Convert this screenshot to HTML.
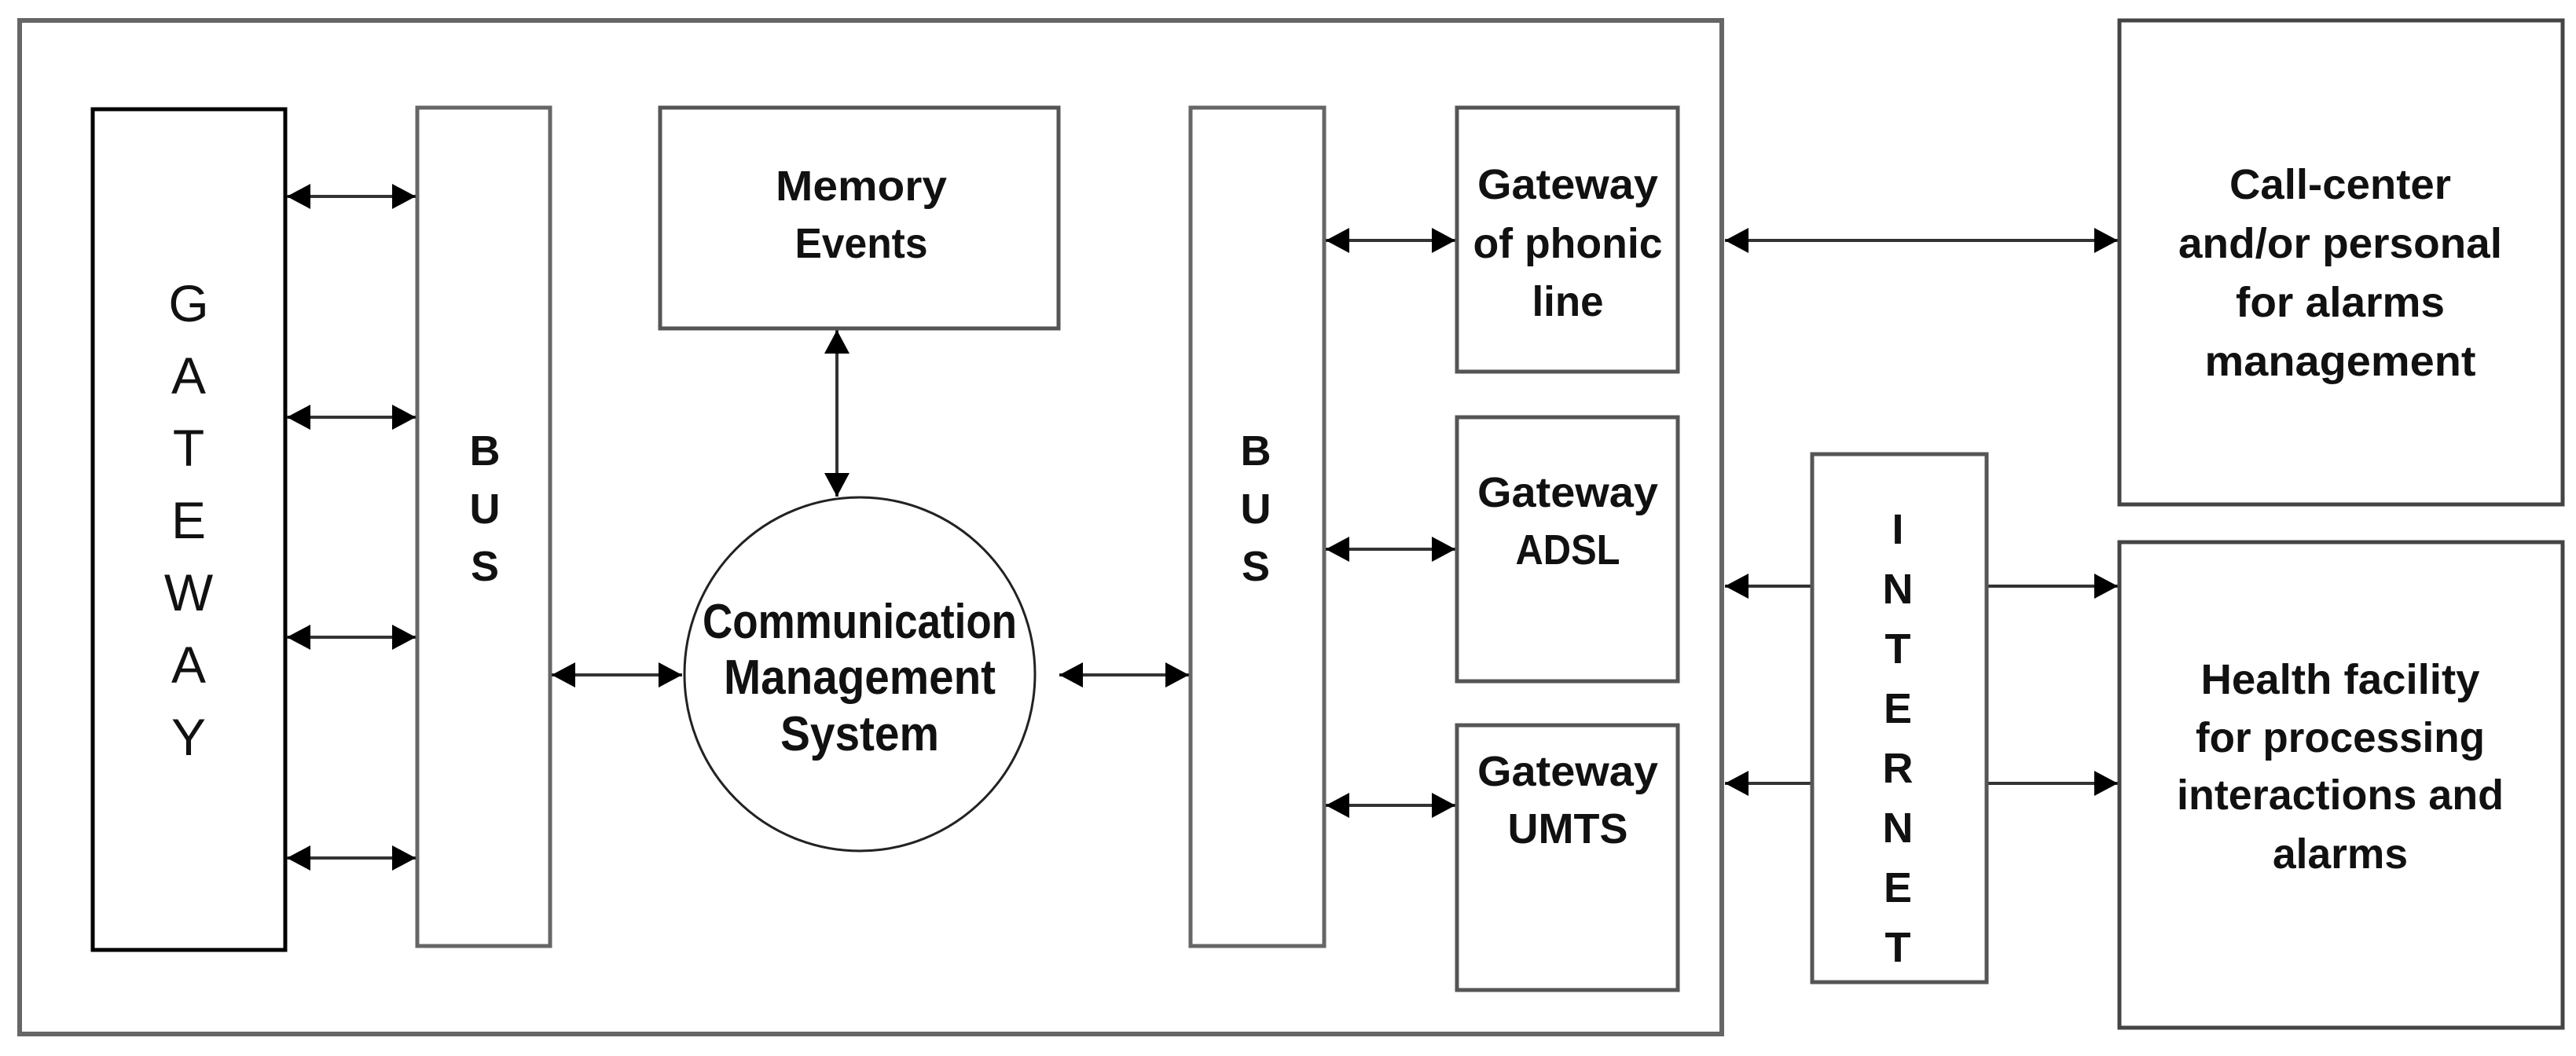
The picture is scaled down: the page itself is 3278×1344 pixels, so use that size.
<!DOCTYPE html>
<html><head><meta charset="utf-8"><style>
html,body{margin:0;padding:0;background:#fff;}
svg{display:block;}
text{font-family:"Liberation Sans",sans-serif;fill:#111;}
.b{font-weight:bold;font-size:54px;}
</style></head><body>
<svg width="3278" height="1344" viewBox="0 0 3278 1344" xmlns="http://www.w3.org/2000/svg">
<defs>
<marker id="ah" markerWidth="30" markerHeight="32" refX="30" refY="16" orient="auto-start-reverse" markerUnits="userSpaceOnUse">
<path d="M0,0 L30,16 L0,32 Z" fill="#000"/>
</marker>
</defs>
<rect width="3278" height="1344" fill="#fff"/>
<!-- outer -->
<rect x="25" y="26" width="2166" height="1290" fill="none" stroke="#666" stroke-width="6"/>
<!-- GATEWAY -->
<rect x="118" y="139" width="245" height="1070" fill="none" stroke="#000" stroke-width="5"/>
<g font-size="66" text-anchor="middle">
<text x="240" y="409">G</text><text x="240" y="501">A</text><text x="240" y="593">T</text>
<text x="240" y="685">E</text><text x="240" y="777">W</text><text x="240" y="869">A</text><text x="240" y="961">Y</text>
</g>
<!-- BUS1 -->
<rect x="531" y="137" width="169" height="1067" fill="none" stroke="#666" stroke-width="5"/>
<g class="b" text-anchor="middle">
<text x="617" y="592">B</text><text x="617" y="666">U</text><text x="617" y="739">S</text>
</g>
<!-- BUS2 -->
<rect x="1515" y="137" width="170" height="1067" fill="none" stroke="#666" stroke-width="5"/>
<g class="b" text-anchor="middle">
<text x="1598" y="592">B</text><text x="1598" y="666">U</text><text x="1598" y="739">S</text>
</g>
<!-- arrows gateway-bus -->
<g stroke="#333" stroke-width="4" marker-start="url(#ah)" marker-end="url(#ah)">
<line x1="365" y1="250" x2="529" y2="250"/>
<line x1="365" y1="531" x2="529" y2="531"/>
<line x1="365" y1="811" x2="529" y2="811"/>
<line x1="365" y1="1092" x2="529" y2="1092"/>
<line x1="702" y1="859" x2="868" y2="859"/>
<line x1="1348" y1="859" x2="1513" y2="859"/>
<line x1="1065" y1="420" x2="1065" y2="632"/>
<line x1="1687" y1="306" x2="1852" y2="306"/>
<line x1="1687" y1="699" x2="1852" y2="699"/>
<line x1="1687" y1="1025" x2="1852" y2="1025"/>
<line x1="2195" y1="306" x2="2695" y2="306"/>
</g>
<g stroke="#333" stroke-width="4" marker-end="url(#ah)">
<line x1="2305" y1="746" x2="2195" y2="746"/>
<line x1="2305" y1="997" x2="2195" y2="997"/>
<line x1="2528" y1="746" x2="2695" y2="746"/>
<line x1="2528" y1="997" x2="2695" y2="997"/>
</g>
<!-- Memory -->
<rect x="840" y="137" width="507" height="281" fill="none" stroke="#555" stroke-width="5"/>
<text class="b" x="1096" y="255" text-anchor="middle" textLength="218" lengthAdjust="spacingAndGlyphs">Memory</text>
<text class="b" x="1096" y="328" text-anchor="middle" textLength="169" lengthAdjust="spacingAndGlyphs">Events</text>
<!-- circle -->
<ellipse cx="1094" cy="858" rx="223" ry="225" fill="#fff" stroke="#222" stroke-width="3"/>
<g font-weight="bold" font-size="62" text-anchor="middle">
<text x="1094" y="812" textLength="400" lengthAdjust="spacingAndGlyphs">Communication</text>
<text x="1094" y="883" textLength="346" lengthAdjust="spacingAndGlyphs">Management</text>
<text x="1094" y="955" textLength="202" lengthAdjust="spacingAndGlyphs">System</text>
</g>
<!-- gateways right -->
<rect x="1854" y="137" width="281" height="336" fill="none" stroke="#555" stroke-width="5"/>
<text class="b" x="1995" y="253" text-anchor="middle" textLength="230" lengthAdjust="spacingAndGlyphs">Gateway</text>
<text class="b" x="1995" y="328" text-anchor="middle" textLength="241" lengthAdjust="spacingAndGlyphs">of phonic</text>
<text class="b" x="1995" y="402" text-anchor="middle" textLength="91" lengthAdjust="spacingAndGlyphs">line</text>
<rect x="1854" y="531" width="281" height="336" fill="none" stroke="#555" stroke-width="5"/>
<text class="b" x="1995" y="645" text-anchor="middle" textLength="230" lengthAdjust="spacingAndGlyphs">Gateway</text>
<text class="b" x="1995" y="718" text-anchor="middle" textLength="133" lengthAdjust="spacingAndGlyphs">ADSL</text>
<rect x="1854" y="923" width="281" height="337" fill="none" stroke="#555" stroke-width="5"/>
<text class="b" x="1995" y="1000" text-anchor="middle" textLength="230" lengthAdjust="spacingAndGlyphs">Gateway</text>
<text class="b" x="1995" y="1073" text-anchor="middle" textLength="153" lengthAdjust="spacingAndGlyphs">UMTS</text>
<!-- INTERNET -->
<rect x="2306" y="578" width="222" height="672" fill="none" stroke="#555" stroke-width="5"/>
<g class="b" text-anchor="middle">
<text x="2415" y="692">I</text><text x="2415" y="768">N</text><text x="2415" y="844">T</text><text x="2415" y="920">E</text>
<text x="2415" y="996">R</text><text x="2415" y="1072">N</text><text x="2415" y="1148">E</text><text x="2415" y="1224">T</text>
</g>
<!-- right boxes -->
<rect x="2697" y="26" width="564" height="616" fill="none" stroke="#444" stroke-width="5"/>
<g class="b" text-anchor="middle">
<text x="2978" y="253" textLength="282" lengthAdjust="spacingAndGlyphs">Call-center</text>
<text x="2978" y="328" textLength="412" lengthAdjust="spacingAndGlyphs">and/or personal</text>
<text x="2978" y="403" textLength="266" lengthAdjust="spacingAndGlyphs">for alarms</text>
<text x="2978" y="478" textLength="345" lengthAdjust="spacingAndGlyphs">management</text>
</g>
<rect x="2697" y="690" width="564" height="618" fill="none" stroke="#444" stroke-width="5"/>
<g class="b" text-anchor="middle">
<text x="2978" y="883" textLength="355" lengthAdjust="spacingAndGlyphs">Health facility</text>
<text x="2978" y="957" textLength="368" lengthAdjust="spacingAndGlyphs">for processing</text>
<text x="2978" y="1030" textLength="416" lengthAdjust="spacingAndGlyphs">interactions and</text>
<text x="2978" y="1105" textLength="172" lengthAdjust="spacingAndGlyphs">alarms</text>
</g>
</svg>
</body></html>
